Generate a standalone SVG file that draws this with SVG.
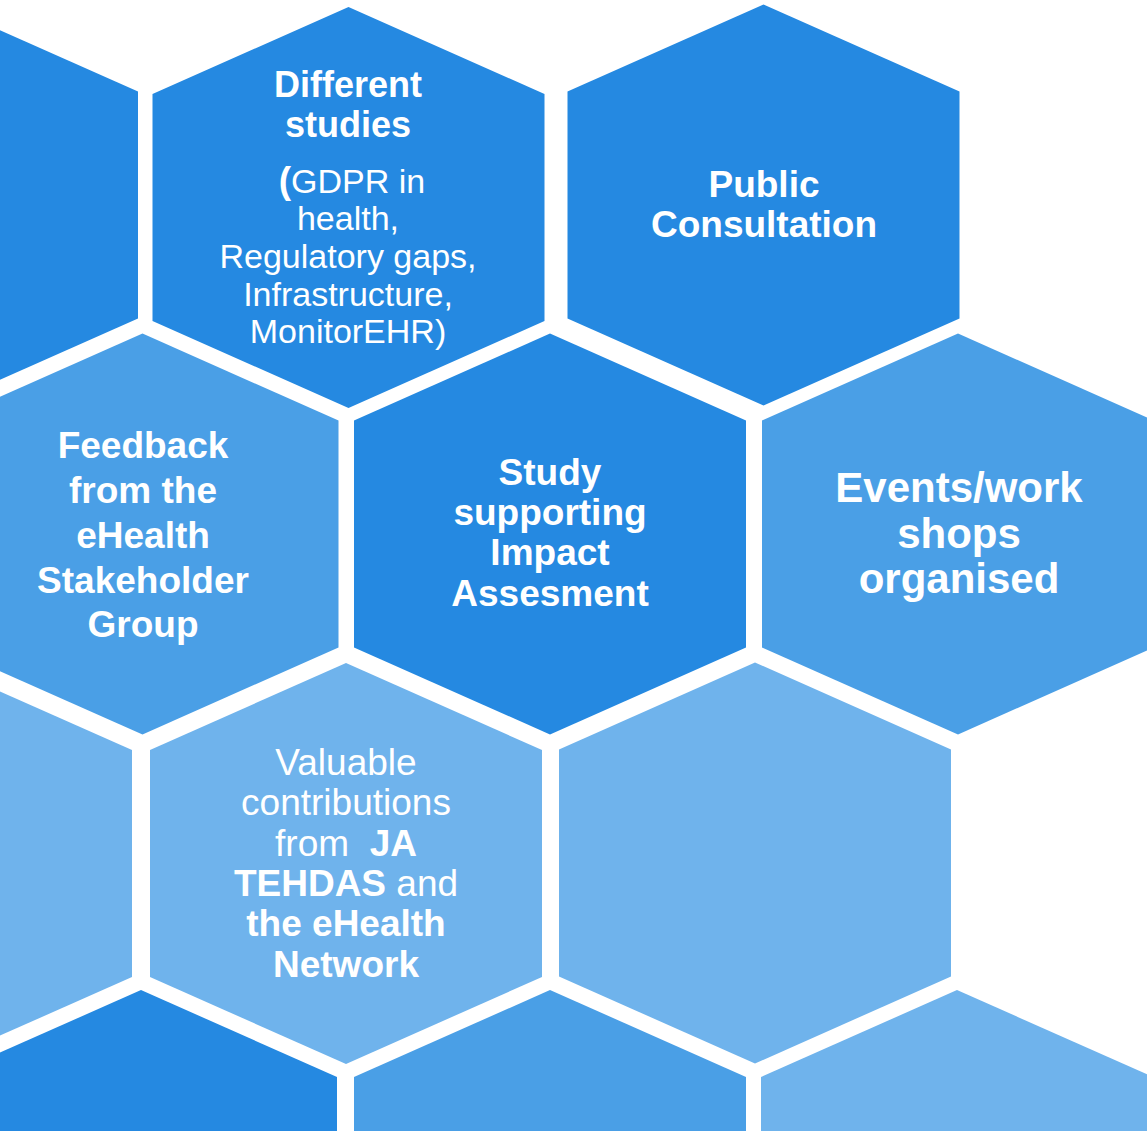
<svg xmlns="http://www.w3.org/2000/svg" xmlns:xlink="http://www.w3.org/1999/xlink" width="1147" height="1131" viewBox="0 0 1147 1131">
<defs>
<style>
.dark{fill:#2589e1}
.mid{fill:#4a9fe6}
.light{fill:#6fb3ec}
text{font-family:"Liberation Sans",Arial,sans-serif;fill:#ffffff;text-anchor:middle}
.b{font-weight:bold}
</style>
<polygon id="hex" points="0,-200.5 196,-113.5 196,113.5 0,200.5 -196,113.5 -196,-113.5"/>
</defs>
<rect width="1147" height="1131" fill="#ffffff"/>

<g id="hex-r1-left"><use xlink:href="#hex" href="#hex" class="dark" transform="translate(-58,205)"/></g>

<g id="different-studies">
<use xlink:href="#hex" href="#hex" class="dark" transform="translate(348.5,207.5)"/>
<text class="b" font-size="36" x="348" y="97">Different</text>
<text class="b" font-size="36" x="348" y="137">studies</text>
<text font-size="34" x="352" y="193"><tspan class="b" font-size="37">(</tspan>GDPR in</text>
<text font-size="34" x="348" y="230">health,</text>
<text font-size="34" x="348" y="268">Regulatory gaps,</text>
<text font-size="34" x="348" y="306">Infrastructure,</text>
<text font-size="34" x="348" y="343">MonitorEHR)</text>
</g>

<g id="public-consultation">
<use xlink:href="#hex" href="#hex" class="dark" transform="translate(763.5,205)"/>
<text class="b" font-size="37" x="764" y="197">Public</text>
<text class="b" font-size="37" x="764" y="237">Consultation</text>
</g>

<g id="feedback">
<use xlink:href="#hex" href="#hex" class="mid" transform="translate(142.5,534)"/>
<text class="b" font-size="37" x="143" y="458">Feedback</text>
<text class="b" font-size="37" x="143" y="503">from the</text>
<text class="b" font-size="37" x="143" y="548">eHealth</text>
<text class="b" font-size="37" x="143" y="593">Stakeholder</text>
<text class="b" font-size="37" x="143" y="637">Group</text>
</g>

<g id="study-impact">
<use xlink:href="#hex" href="#hex" class="dark" transform="translate(550,534)"/>
<text class="b" font-size="37" x="550" y="485">Study</text>
<text class="b" font-size="37" x="550" y="525">supporting</text>
<text class="b" font-size="37" x="550" y="565">Impact</text>
<text class="b" font-size="37" x="550" y="606">Assesment</text>
</g>

<g id="events">
<use xlink:href="#hex" href="#hex" class="mid" transform="translate(958,534)"/>
<text class="b" font-size="42" x="959" y="502">Events/work</text>
<text class="b" font-size="42" x="959" y="548">shops</text>
<text class="b" font-size="42" x="959" y="593">organised</text>
</g>

<g id="hex-r3-left"><use xlink:href="#hex" href="#hex" class="light" transform="translate(-64,863.5)"/></g>

<g id="valuable">
<use xlink:href="#hex" href="#hex" class="light" transform="translate(346,863.5)"/>
<text font-size="37" x="346" y="775">Valuable</text>
<text font-size="37" x="346" y="815">contributions</text>
<text font-size="37" x="346" y="856">from&#160; <tspan class="b">JA</tspan></text>
<text font-size="37" x="346" y="896"><tspan class="b">TEHDAS</tspan> and</text>
<text class="b" font-size="37" x="346" y="936">the eHealth</text>
<text class="b" font-size="37" x="346" y="977">Network</text>
</g>

<g id="hex-r3-right"><use xlink:href="#hex" href="#hex" class="light" transform="translate(755,863)"/></g>

<g id="hex-r4-left"><use xlink:href="#hex" href="#hex" class="dark" transform="translate(141,1190.5)"/></g>
<g id="hex-r4-mid"><use xlink:href="#hex" href="#hex" class="mid" transform="translate(550,1190.5)"/></g>
<g id="hex-r4-right"><use xlink:href="#hex" href="#hex" class="light" transform="translate(957,1190.5)"/></g>
</svg>
